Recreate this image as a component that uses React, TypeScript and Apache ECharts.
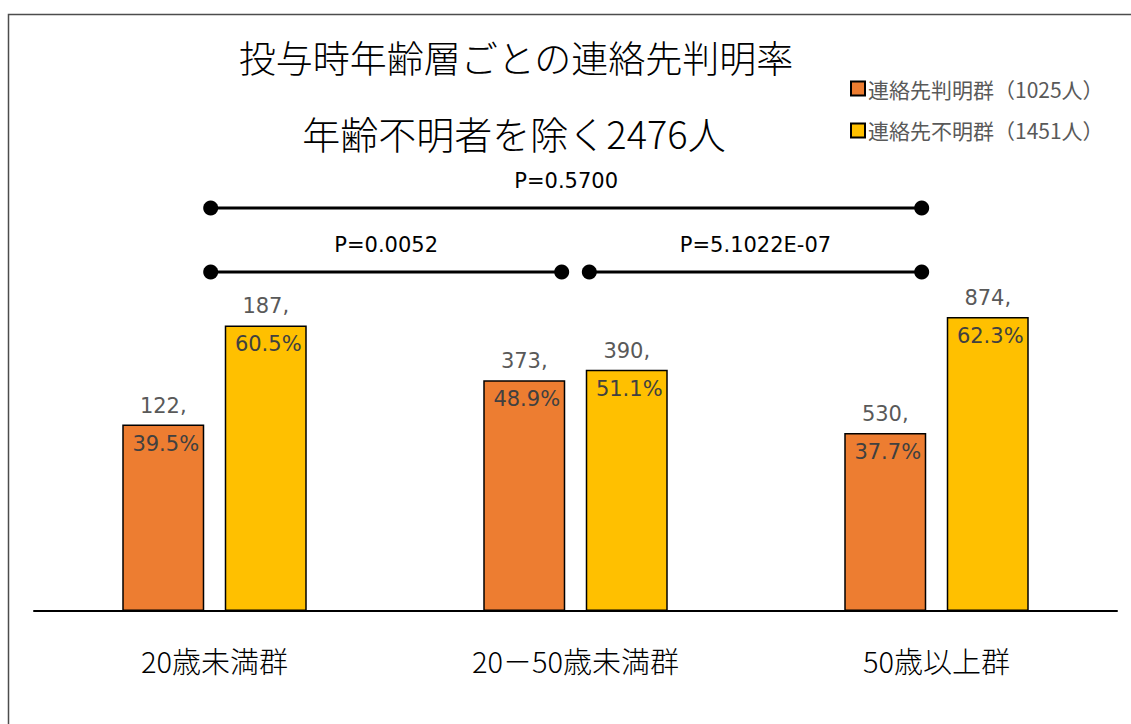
import React, { useEffect, useRef } from "react";
import * as echarts from "echarts";

const categories = ["20歳未満群", "20－50歳未満群", "50歳以上群"];
const seriesNames = ["連絡先判明群（1025人）", "連絡先不明群（1451人）"];
const knownPct = [39.5, 48.9, 37.7];
const unknownPct = [60.5, 51.1, 62.3];
const knownCount = [122, 373, 530];
const unknownCount = [187, 390, 874];
const titleText = "投与時年齢層ごとの連絡先判明率";
const subtitleText = "年齢不明者を除く2476人";
const pTop = "P=0.5700";
const pLeft = "P=0.0052";
const pRight = "P=5.1022E-07";

const JP = "'Noto Sans CJK JP', 'Noto Sans', sans-serif";
const NUM = "'DejaVu Sans', Verdana, sans-serif";

function bracket(x1: number, x2: number, y: number, label: string) {
  return [
    { type: "line", shape: { x1, y1: y, x2, y2: y }, style: { stroke: "#000", lineWidth: 3 } },
    { type: "circle", shape: { cx: x1, cy: y, r: 7.5 }, style: { fill: "#000" } },
    { type: "circle", shape: { cx: x2, cy: y, r: 7.5 }, style: { fill: "#000" } },
    {
      type: "text",
      x: (x1 + x2) / 2,
      y: y - 27,
      style: {
        text: label,
        fill: "#000",
        font: `21px ${NUM}`,
        textAlign: "center",
        textVerticalAlign: "middle",
      },
    },
  ];
}

export default function App() {
  const ref = useRef<HTMLDivElement>(null);
  useEffect(() => {
    if (!ref.current) return;
    const chart = echarts.init(ref.current, undefined, { renderer: "svg" });
    const mkLabel = (counts: number[], pcts: number[]) => ({
      show: true,
      position: "top",
      distance: 0,
      offset: [0, 38],
      formatter: (p: any) => `{a|${counts[p.dataIndex]},}\n{b|${pcts[p.dataIndex].toFixed(1)}%}`,
      rich: {
        a: { fontFamily: NUM, fontSize: 21, color: "#595959", lineHeight: 38 },
        b: { fontFamily: NUM, fontSize: 21, color: "#404040", lineHeight: 38, padding: [0, 0, 0, 5] },
      },
    });
    chart.setOption({
      animation: false,
      backgroundColor: "#fff",
      title: [
        {
          text: titleText,
          left: 511,
          textAlign: "center",
          top: 30,
          textStyle: { fontFamily: JP, fontSize: 37, fontWeight: 300, color: "#000", lineHeight: 44 },
        },
        {
          text: subtitleText,
          left: 509,
          textAlign: "center",
          top: 105,
          textStyle: { fontFamily: JP, fontSize: 38, fontWeight: 300, color: "#000", lineHeight: 44 },
        },
      ],
      legend: {
        orient: "vertical",
        left: 845,
        top: 73,
        itemWidth: 14,
        itemHeight: 14,
        itemGap: 21,
        icon: "rect",
        textStyle: { fontFamily: JP, fontSize: 21, color: "#595959", padding: [0, 0, 0, -2] },
        data: seriesNames,
      },
      grid: { left: 34, right: 14, top: 139, bottom: 113 },
      xAxis: {
        type: "category",
        data: categories,
        axisLine: { lineStyle: { color: "#000", width: 2 } },
        axisTick: { show: false },
        axisLabel: { fontFamily: JP, fontSize: 29, fontWeight: 300, color: "#000", margin: 35, lineHeight: 28 },
      },
      yAxis: { type: "value", min: 0, max: 100, show: false, splitLine: { show: false } },
      series: [
        {
          name: seriesNames[0],
          type: "bar",
          data: knownPct,
          barWidth: 82,
          barGap: "25%",
          itemStyle: { color: "#ED7D31", borderColor: "#000", borderWidth: 1.5 },
          label: mkLabel(knownCount, knownPct),
        },
        {
          name: seriesNames[1],
          type: "bar",
          data: unknownPct,
          barWidth: 82,
          barGap: "25%",
          itemStyle: { color: "#FFC000", borderColor: "#000", borderWidth: 1.5 },
          label: mkLabel(unknownCount, unknownPct),
        },
      ],
      graphic: [
        {
          type: "rect",
          shape: { x: 8.5, y: 14.5, width: 1140, height: 730 },
          style: { fill: "none", stroke: "#4d4d4d", lineWidth: 1.5 },
          silent: true,
        },
        ...bracket(210.7, 921.7, 208, pTop),
        ...bracket(210.7, 561.7, 272, pLeft),
        ...bracket(589.3, 921.7, 272, pRight),
      ],
    });
    return () => chart.dispose();
  }, []);
  return (
    <div
      ref={ref}
      style={{ position: "absolute", left: 0, top: 0, width: 1131, height: 724, background: "#fff" }}
    />
  );
}
